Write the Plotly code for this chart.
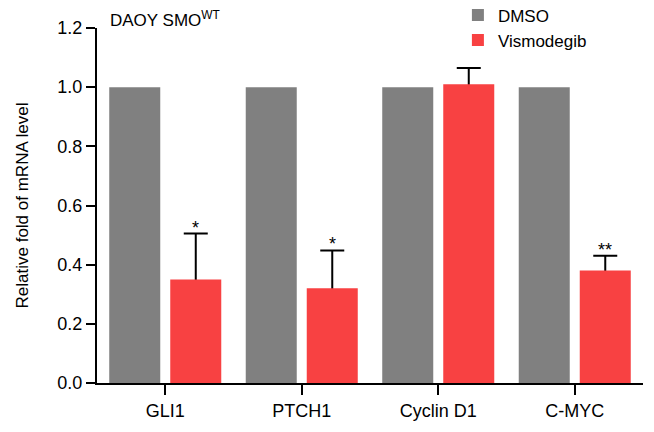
import plotly.graph_objects as go

genes = ["GLI1", "PTCH1", "Cyclin D1", "C-MYC"]
dmso = [1.0, 1.0, 1.0, 1.0]
vismodegib = [0.35, 0.32, 1.01, 0.38]
vismodegib_err = [0.155, 0.128, 0.055, 0.05]
significance = ["*", "*", "", "**"]
y_ticks = [0.0, 0.2, 0.4, 0.6, 0.8, 1.0, 1.2]

GRAY = "#808080"
RED = "#F84142"
FONT = "Liberation Sans, Arial, sans-serif"

fig = go.Figure()
fig.add_trace(go.Bar(name="DMSO", x=genes, y=dmso, offsetgroup="dmso",
                     marker=dict(color=GRAY, line=dict(width=0))))
# upper-only error bars: carried by a transparent copy drawn beneath the red bars,
# so the lower cap (hidden inside the bar) is covered
fig.add_trace(go.Bar(
    name="Vismodegib SEM", x=genes, y=vismodegib, offsetgroup="vis", showlegend=False,
    marker=dict(color="rgba(0,0,0,0)", line=dict(width=0)), hoverinfo="skip",
    error_y=dict(type="data", array=vismodegib_err, symmetric=False,
                 arrayminus=[0.03] * len(genes),
                 color="black", thickness=2, width=12),
))
fig.add_trace(go.Bar(name="Vismodegib", x=genes, y=vismodegib, offsetgroup="vis",
                     marker=dict(color=RED, line=dict(width=0))))

for g, v, e, s in zip(genes, vismodegib, vismodegib_err, significance):
    if s:
        fig.add_annotation(x=g, y=v + e, text=s, showarrow=False, xshift=30.5,
                           yanchor="bottom", yshift=-6,
                           font=dict(family=FONT, size=18, color="black"))

fig.update_layout(
    width=654, height=432,
    margin=dict(l=89, r=19, t=20, b=57, autoexpand=False),
    paper_bgcolor="white", plot_bgcolor="white",
    barmode="group", bargap=0.106, bargroupgap=0.164,
    font=dict(family=FONT, size=18, color="black"),
    showlegend=True,
    legend=dict(x=0.661, y=1.086, xanchor="left", yanchor="top",
                font=dict(family=FONT, size=17, color="black"),
                bgcolor="rgba(0,0,0,0)", itemwidth=30, tracegroupgap=0),
    xaxis=dict(range=[-0.5, 3.5], showline=True, linecolor="black", linewidth=2,
               ticks="outside", ticklen=10, tickwidth=2, tickcolor="black",
               tickfont=dict(size=18), showgrid=False, zeroline=False, automargin=False),
    yaxis=dict(range=[0, 1.2], tickvals=y_ticks, ticktext=[f"{t:.1f}" for t in y_ticks],
               showline=True, linecolor="black", linewidth=2,
               ticks="outside", ticklen=9, tickwidth=2, tickcolor="black",
               tickfont=dict(size=18), showgrid=False, zeroline=False, automargin=False,
               title=dict(text="Relative fold of mRNA level", font=dict(size=17), standoff=24)),
)
fig.add_annotation(xref="paper", yref="paper", x=0.02, y=1.0, xanchor="left", yanchor="bottom",
                   text="DAOY SMO<sup>WT</sup>", showarrow=False, yshift=-4,
                   font=dict(family=FONT, size=17, color="black"))

fig.write_html("out.html")
